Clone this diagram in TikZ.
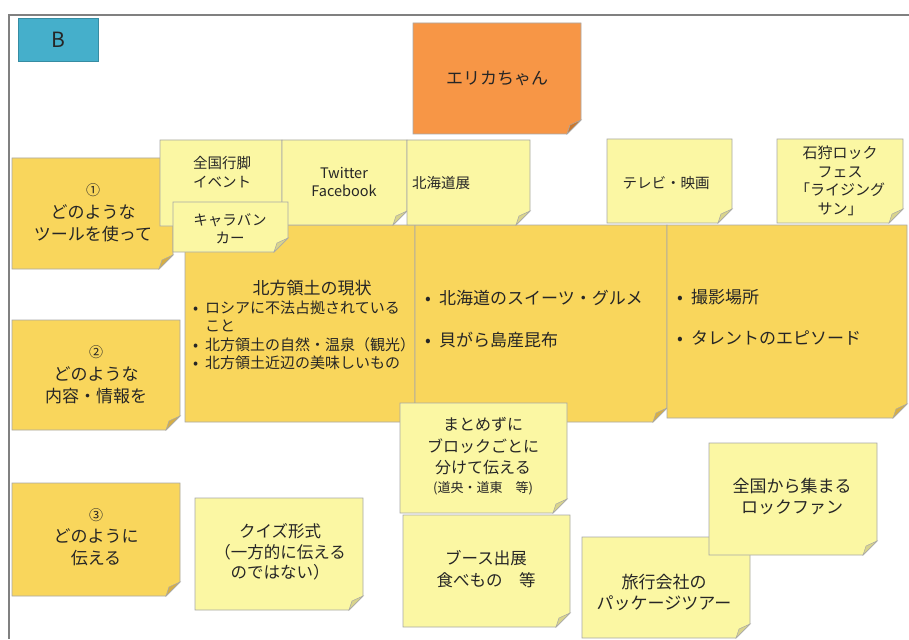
\documentclass[tikz,border=0pt]{standalone}
\usepackage{fontspec}
\setmainfont{Noto Sans CJK JP}
\definecolor{ly}{HTML}{FBF7A3}
\definecolor{lyfold}{HTML}{D9D48C}
\definecolor{gd}{HTML}{F9D65C}
\definecolor{gdfold}{HTML}{D6AE45}
\definecolor{org}{HTML}{F79646}
\definecolor{orgfold}{HTML}{C8772F}
\definecolor{bl}{HTML}{45AFCB}
\definecolor{bdr}{HTML}{A8A8A8}
\definecolor{framegray}{HTML}{808080}
\definecolor{ink}{HTML}{262626}
\newcommand{\fsz}[2]{\fontsize{#1}{#2}\selectfont}
% sticky note: name, x1, y1, x2, y2, fill, fold colour
\newcommand{\stickynote}[7]{%
  \coordinate (#1-nw) at (#2,#3);
  \coordinate (#1-se) at (#4,#5);
  \filldraw[fill=#6, draw=bdr, line width=0.8pt] (#1-nw) -- (#4,#3) -- (#4,#5-14) -- (#4-14,#5) -- (#2,#5) -- cycle;
  \filldraw[fill=#7, draw=bdr, line width=0.5pt] (#4,#5-14) -- (#4-14,#5) -- (#4-11,#5-9) -- cycle;
}
\tikzset{
  txt/.style={inner sep=0pt, align=center, text=ink},
  ltxt/.style={inner sep=0pt, align=left, text=ink, anchor=west},
}
\begin{document}
\begin{tikzpicture}[x=1pt, y=-1pt]
\useasboundingbox (0,0) rectangle (909,639);
\fill[white] (0,0) rectangle (909,639);
% frame
\coordinate (frtop) at (909,15);
\coordinate (frcorner) at (9,15);
\coordinate (frbot) at (9,639);
\draw[framegray, line width=2pt] (frtop) -- (frcorner) -- (frbot);

% B label
\node[fill=bl, draw=bl!80!black, line width=0.5pt, minimum width=80pt, minimum height=43pt, inner sep=0pt, font=\fsz{21}{24}, text=ink] (blabel) at (58,39.5) {B};

% Erika
\stickynote{erikabox}{413}{23}{581}{134}{org}{orgfold}
\node[txt, font=\fsz{17}{21}] (erika) at (497,78) {エリカちゃん};

% left column
\stickynote{q1box}{12}{158}{173}{269}{gd}{gdfold}
\node[txt, font=\fsz{17}{22.5}] (q1) at (93,213) {{\fsz{14}{16}①}\\どのような\\ツールを使って};
\stickynote{q2box}{12}{320}{180}{430}{gd}{gdfold}
\node[txt, font=\fsz{17}{22.5}] (q2) at (96,375) {{\fsz{14}{16}②}\\どのような\\内容・情報を};
\stickynote{q3box}{12}{483}{180}{596}{gd}{gdfold}
\node[txt, font=\fsz{17}{22}] (q3) at (96,537) {{\fsz{14}{16}③}\\どのように\\伝える};

% big boxes
\stickynote{hoppobox}{185}{225}{415}{422}{gd}{gdfold}
\node[txt, font=\fsz{17}{21}] (hoppohead) at (312,288) {北方領土の現状};
\node[ltxt, font=\fsz{15}{18.5}] (hoppolist) at (193,335.5) {\makebox[12pt][l]{•}ロシアに不法占拠されている\\\makebox[12pt][l]{}こと\\\makebox[12pt][l]{•}北方領土の自然・温泉（観光）\\\makebox[12pt][l]{•}北方領土近辺の美味しいもの};
\stickynote{hkdbox}{415}{225}{667}{422}{gd}{gdfold}
\node[ltxt, font=\fsz{17}{42}] (hkdlist) at (425,319) {\makebox[14pt][l]{•}北海道のスイーツ・グルメ\\\makebox[14pt][l]{•}貝がら島産昆布};
\stickynote{satsueibox}{667}{225}{907}{418}{gd}{gdfold}
\node[ltxt, font=\fsz{17}{41}] (satsueilist) at (677,317.5) {\makebox[14pt][l]{•}撮影場所\\\makebox[14pt][l]{•}タレントのエピソード};

% top row tools
\stickynote{zenkokubox}{160}{140}{282}{226}{ly}{lyfold}
\node[txt, font=\fsz{14.5}{19}] (zenkoku) at (222,172) {全国行脚\\イベント};
\stickynote{twitterbox}{282}{140}{407}{225}{ly}{lyfold}
\node[txt, font=\fsz{14.5}{18.5}] (twitter) at (344,182) {Twitter\\Facebook};
\stickynote{tenbox}{407}{140}{530}{225}{ly}{lyfold}
\node[txt, font=\fsz{14.5}{18}] (ten) at (441,183) {北海道展};
\stickynote{tvbox}{607}{139}{732}{223}{ly}{lyfold}
\node[txt, font=\fsz{14.5}{18}] (tv) at (666,183) {テレビ・映画};
\stickynote{ishikaribox}{777}{139}{903}{223}{ly}{lyfold}
\node[txt, font=\fsz{15}{18.5}] (ishikari) at (840,181) {石狩ロック\\フェス\\「ライジング\\サン」};
\stickynote{caravanbox}{173}{202}{288}{252}{ly}{lyfold}
\node[txt, font=\fsz{14.5}{18}] (caravan) at (230,229) {キャラバン\\カー};

% how to convey
\stickynote{matomebox}{400}{403}{567}{513}{ly}{lyfold}
\node[txt, font=\fsz{16}{21.5}] (matome) at (483,456) {まとめずに\\ブロックごとに\\分けて伝える\\[-3pt]{\fsz{13}{15}(道央・道東　等)}};
\stickynote{quizbox}{195}{498}{363}{610}{ly}{lyfold}
\node[txt, font=\fsz{16.5}{20.5}] (quiz) at (280,552) {クイズ形式\\（一方的に伝える\\のではない）};
\stickynote{boothbox}{403}{515}{570}{627}{ly}{lyfold}
\node[txt, font=\fsz{16.5}{22}] (booth) at (486,569) {ブース出展\\食べもの　等};
\stickynote{ryokobox}{582}{537}{750}{638}{ly}{lyfold}
\node[txt, font=\fsz{17}{21}] (ryoko) at (664,592) {旅行会社の\\パッケージツアー};
\stickynote{fanbox}{709}{443}{877}{555}{ly}{lyfold}
\node[txt, font=\fsz{17}{21}] (fan) at (792,497) {全国から集まる\\ロックファン};
\end{tikzpicture}
\end{document}
